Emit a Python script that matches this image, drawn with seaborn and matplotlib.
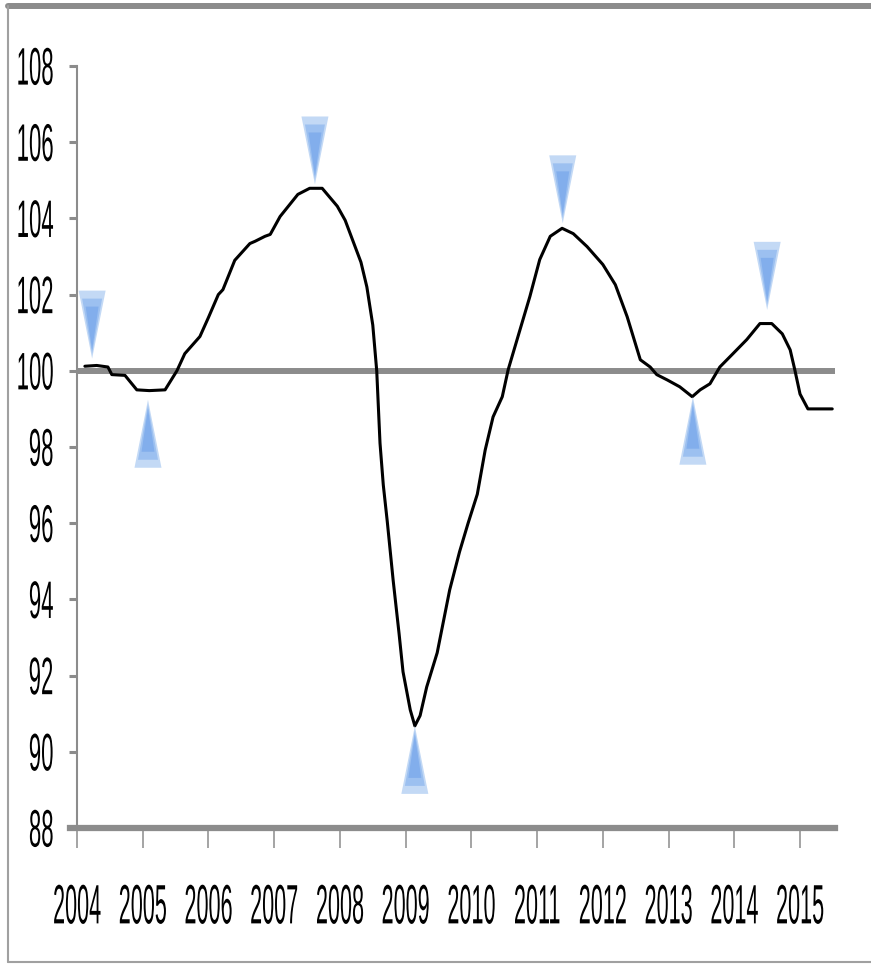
import numpy as np
import pandas as pd
import matplotlib
matplotlib.use("Agg")
import matplotlib.pyplot as plt
import seaborn as sns
from matplotlib.markers import MarkerStyle
from matplotlib.patheffects import AbstractPathEffect
from matplotlib.transforms import Affine2D
from matplotlib.lines import Line2D

# ---------------- data ----------------
dates = [2004.12, 2004.30, 2004.47, 2004.53, 2004.73, 2004.91, 2005.10, 2005.34,
         2005.52, 2005.64, 2005.87, 2006.00, 2006.15, 2006.22, 2006.40, 2006.63,
         2006.71, 2006.86, 2006.94, 2007.09, 2007.36, 2007.54, 2007.73, 2007.96,
         2008.08, 2008.20, 2008.32, 2008.41, 2008.50, 2008.56, 2008.61, 2008.66,
         2008.72, 2008.81, 2008.90, 2008.96, 2009.07, 2009.14, 2009.22, 2009.32,
         2009.48, 2009.67, 2009.82, 2009.95, 2010.09, 2010.21, 2010.33, 2010.47,
         2010.56, 2010.74, 2010.89, 2011.04, 2011.20, 2011.38, 2011.55, 2011.76,
         2012.00, 2012.19, 2012.37, 2012.57, 2012.72, 2012.82, 2012.98, 2013.17,
         2013.36, 2013.48, 2013.63, 2013.78, 2013.98, 2014.19, 2014.39, 2014.57,
         2014.73, 2014.85, 2014.92, 2015.00, 2015.12, 2015.49]
index = [100.12, 100.14, 100.10, 99.90, 99.88, 99.50, 99.48, 99.50,
         100.00, 100.45, 100.90, 101.40, 102.00, 102.13, 102.90, 103.34,
         103.40, 103.53, 103.58, 104.05, 104.63, 104.79, 104.79, 104.32,
         103.95, 103.40, 102.85, 102.20, 101.20, 100.00, 98.10, 97.00,
         96.05, 94.50, 93.10, 92.10, 91.10, 90.68, 90.95, 91.70,
         92.60, 94.25, 95.25, 96.00, 96.76, 97.92, 98.79, 99.32,
         100.03, 101.08, 101.95, 102.92, 103.53, 103.74, 103.60, 103.26,
         102.79, 102.26, 101.42, 100.29, 100.10, 99.90, 99.76, 99.58,
         99.32, 99.50, 99.66, 100.10, 100.45, 100.82, 101.24, 101.24,
         100.97, 100.55, 100.03, 99.39, 99.00, 99.00]

peak_dates = [2004.23, 2007.62, 2011.39, 2014.50]
peak_marks = [100.32, 104.89, 103.87, 101.60]
trough_dates = [2005.08, 2009.14, 2013.37]
trough_marks = [99.24, 90.68, 99.32]

base_level = 100
year_ticks = list(range(2004, 2016))
year_labels = [str(y) for y in year_ticks]
y_ticks = list(range(88, 109, 2))
y_labels = [str(v) for v in y_ticks]

df = pd.DataFrame({"date": dates, "index": index})
peaks = pd.DataFrame({"date": peak_dates, "mark": peak_marks})
troughs = pd.DataFrame({"date": trough_dates, "mark": trough_marks})

# ---------------- styling helpers ----------------
DPI = 100
W, H = 871, 967
GRAY = "#8c8c8c"


class Stretch(AbstractPathEffect):
    """Draw text with a condensed / tall look (the text stays real text)."""

    def __init__(self, sx, sy, xanchor="center", yanchor="center"):
        super().__init__()
        self.sx, self.sy = sx, sy
        self.xanchor, self.yanchor = xanchor, yanchor

    def draw_path(self, renderer, gc, tpath, affine, rgbFace=None):
        ext = tpath.get_extents()
        ax_ = {"left": ext.x0, "right": ext.x1}.get(self.xanchor,
                                                    0.5 * (ext.x0 + ext.x1))
        ay_ = {"bottom": ext.y0, "top": ext.y1}.get(self.yanchor,
                                                   0.5 * (ext.y0 + ext.y1))
        pre = (Affine2D().translate(-ax_, -ay_)
               .scale(self.sx, self.sy).translate(ax_, ay_))
        renderer.draw_path(gc, tpath, pre + affine, rgbFace)


def tri_marker(tip_off, half_w, height, down=True):
    s = 1 if down else -1
    verts = np.array([[0, s * tip_off], [-half_w, s * height],
                      [half_w, s * height], [0, s * tip_off]])
    size_pt = 2 * np.max(np.abs(verts)) * 72.0 / DPI
    return MarkerStyle(verts), size_pt


sns.set_style("white")
plt.rcParams["font.family"] = ["Liberation Sans", "DejaVu Sans"]

fig = plt.figure(figsize=(W / DPI, H / DPI), dpi=DPI)
ax = fig.add_axes([77 / W, (H - 828) / H, (835 - 77) / W, (828 - 66) / H])

x_max = 2004 + (835 - 77) / 65.73
ax.set_xlim(2004, x_max)
ax.set_ylim(88, 108)

# reference line at 100
ax.axhline(base_level, color=GRAY, lw=4.3, zorder=1)

# main series
sns.lineplot(data=df, x="date", y="index", color="black", lw=2.2, ax=ax,
             zorder=3, solid_joinstyle="round", solid_capstyle="round")

# turning point markers (layers imitate the gradient fill)
for frame, down in ((peaks, True), (troughs, False)):
    layers = [((0, 13.5, 68), "#c3d9f5"),
              ((5, 10.0, 60), "#9cc0f0"),
              ((9, 6.5, 52), "#82aeec")]
    for k, ((off, hw, hh), col) in enumerate(layers):
        m, sz = tri_marker(off, hw, hh, down)
        sns.scatterplot(data=frame, x="date", y="mark", marker=m, s=sz ** 2,
                        color=col, edgecolor="none", linewidth=0, ax=ax,
                        zorder=4 + k, legend=False)

# axes
for side in ("top", "right"):
    ax.spines[side].set_visible(False)
ax.spines["left"].set_color(GRAY)
ax.spines["left"].set_linewidth(1.5)
ax.spines["bottom"].set_color(GRAY)
ax.spines["bottom"].set_linewidth(4.5)
ax.spines["bottom"].set_bounds(2004 - 7 / 65.73, x_max)

ax.set_xticks(year_ticks)
ax.set_xticklabels(year_labels)
ax.set_yticks(y_ticks)
ax.set_yticklabels(y_labels)
ax.set_xlabel("")
ax.set_ylabel("")
ax.tick_params(axis="x", direction="out", length=14.4, width=1.1,
               color=GRAY, pad=26, labelsize=19, labelcolor="black",
               bottom=True)
ax.tick_params(axis="y", direction="out", length=5.8, width=2.2,
               color=GRAY, pad=11, labelsize=19, labelcolor="black",
               left=True)
# font 19pt = 26.4 px: "2004" ~ 58.7 px wide -> 48 px; digits 18.9 px -> 40 px
for lbl in ax.get_xticklabels():
    lbl.set_path_effects([Stretch(0.82, 2.1, "center", "top")])
# "100" ~ 44 px wide -> 37 px; digits 18.9 px -> 38 px
for lbl in ax.get_yticklabels():
    lbl.set_path_effects([Stretch(0.84, 2.0, "right", "center")])
ax.grid(False)

# outer frame of the picture
fig.add_artist(Line2D([8 / W, 1], [1 - 6 / H, 1 - 6 / H], color=GRAY, lw=4.3,
                      transform=fig.transFigure))
fig.add_artist(Line2D([8 / W, 8 / W], [1 - 6 / H, 1 - 962 / H], color="#a0a0a0",
                      lw=1.5, transform=fig.transFigure))
fig.add_artist(Line2D([8 / W, 1], [1 - 962 / H, 1 - 962 / H], color="#a0a0a0",
                      lw=1.5, transform=fig.transFigure))

fig.savefig("out.png", dpi=DPI)
